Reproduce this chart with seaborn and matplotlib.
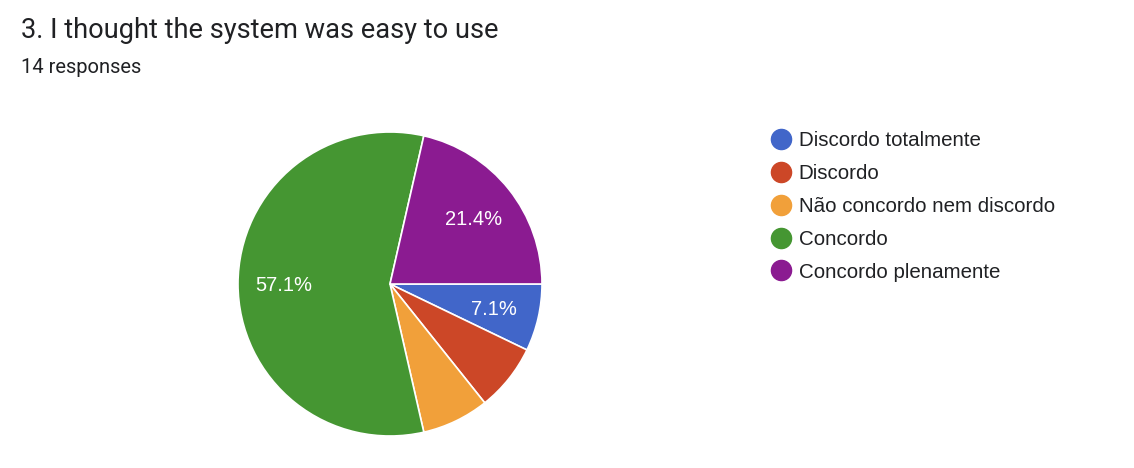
import numpy as np
import seaborn as sns
import matplotlib.pyplot as plt
from matplotlib.lines import Line2D

# data
categories = ['Discordo totalmente', 'Discordo', 'Não concordo nem discordo',
              'Concordo', 'Concordo plenamente']
counts = [1, 1, 1, 8, 3]
show_label = [True, False, False, True, True]
colors = ['#4166c9', '#cc4727', '#f1a03a', '#459632', '#8b1b91']

sns.set_theme(style='white')
plt.rcParams['font.family'] = ['Liberation Sans', 'DejaVu Sans']

W, H = 1134, 468
fig = plt.figure(figsize=(W / 100, H / 100), dpi=100)
fig.patch.set_facecolor('white')

# pie axes: centre (390, 284) px from top-left, radius ~152 px
r_px = 152
lim = 1.05
half = r_px * lim
ax = fig.add_axes([(390 - half) / W, (H - 284 - half) / H, 2 * half / W, 2 * half / H])

wedges, texts, autotexts = ax.pie(
    counts, colors=colors, startangle=0, counterclock=False,
    autopct=lambda p: f'{p:.1f}%', pctdistance=0.7,
    wedgeprops=dict(edgecolor='white', linewidth=1.2),
    textprops=dict(color='white', fontsize=14.5))
for t, s in zip(autotexts, show_label):
    t.set_va('center_baseline')
    if not s:
        t.set_visible(False)
ax.set_xlim(-lim, lim)
ax.set_ylim(-lim, lim)
ax.set_aspect('equal')
ax.axis('off')

# titles (Google Forms header uses Roboto)
fig.text(21 / W, 1 - 38.5 / H, '3. I thought the system was easy to use',
         fontsize=19.6, color='#202124', va='baseline', ha='left',
         family=['Roboto', 'DejaVu Sans'])
fig.text(21 / W, 1 - 73 / H, '14 responses',
         fontsize=14.5, color='#202124', va='baseline', ha='left',
         family=['Roboto', 'DejaVu Sans'])

# legend
handles = [Line2D([0], [0], marker='o', linestyle='none', markersize=14.5,
                  markerfacecolor=c, markeredgecolor=c) for c in colors]
fig.legend(handles, categories, loc='upper left',
           bbox_to_anchor=(752 / W, 1 - 113 / H), frameon=False,
           fontsize=14.8, labelspacing=0.67, handletextpad=0.38,
           handlelength=1.0, labelcolor='#202124')

fig.savefig('out.png', dpi=100, facecolor='white')
